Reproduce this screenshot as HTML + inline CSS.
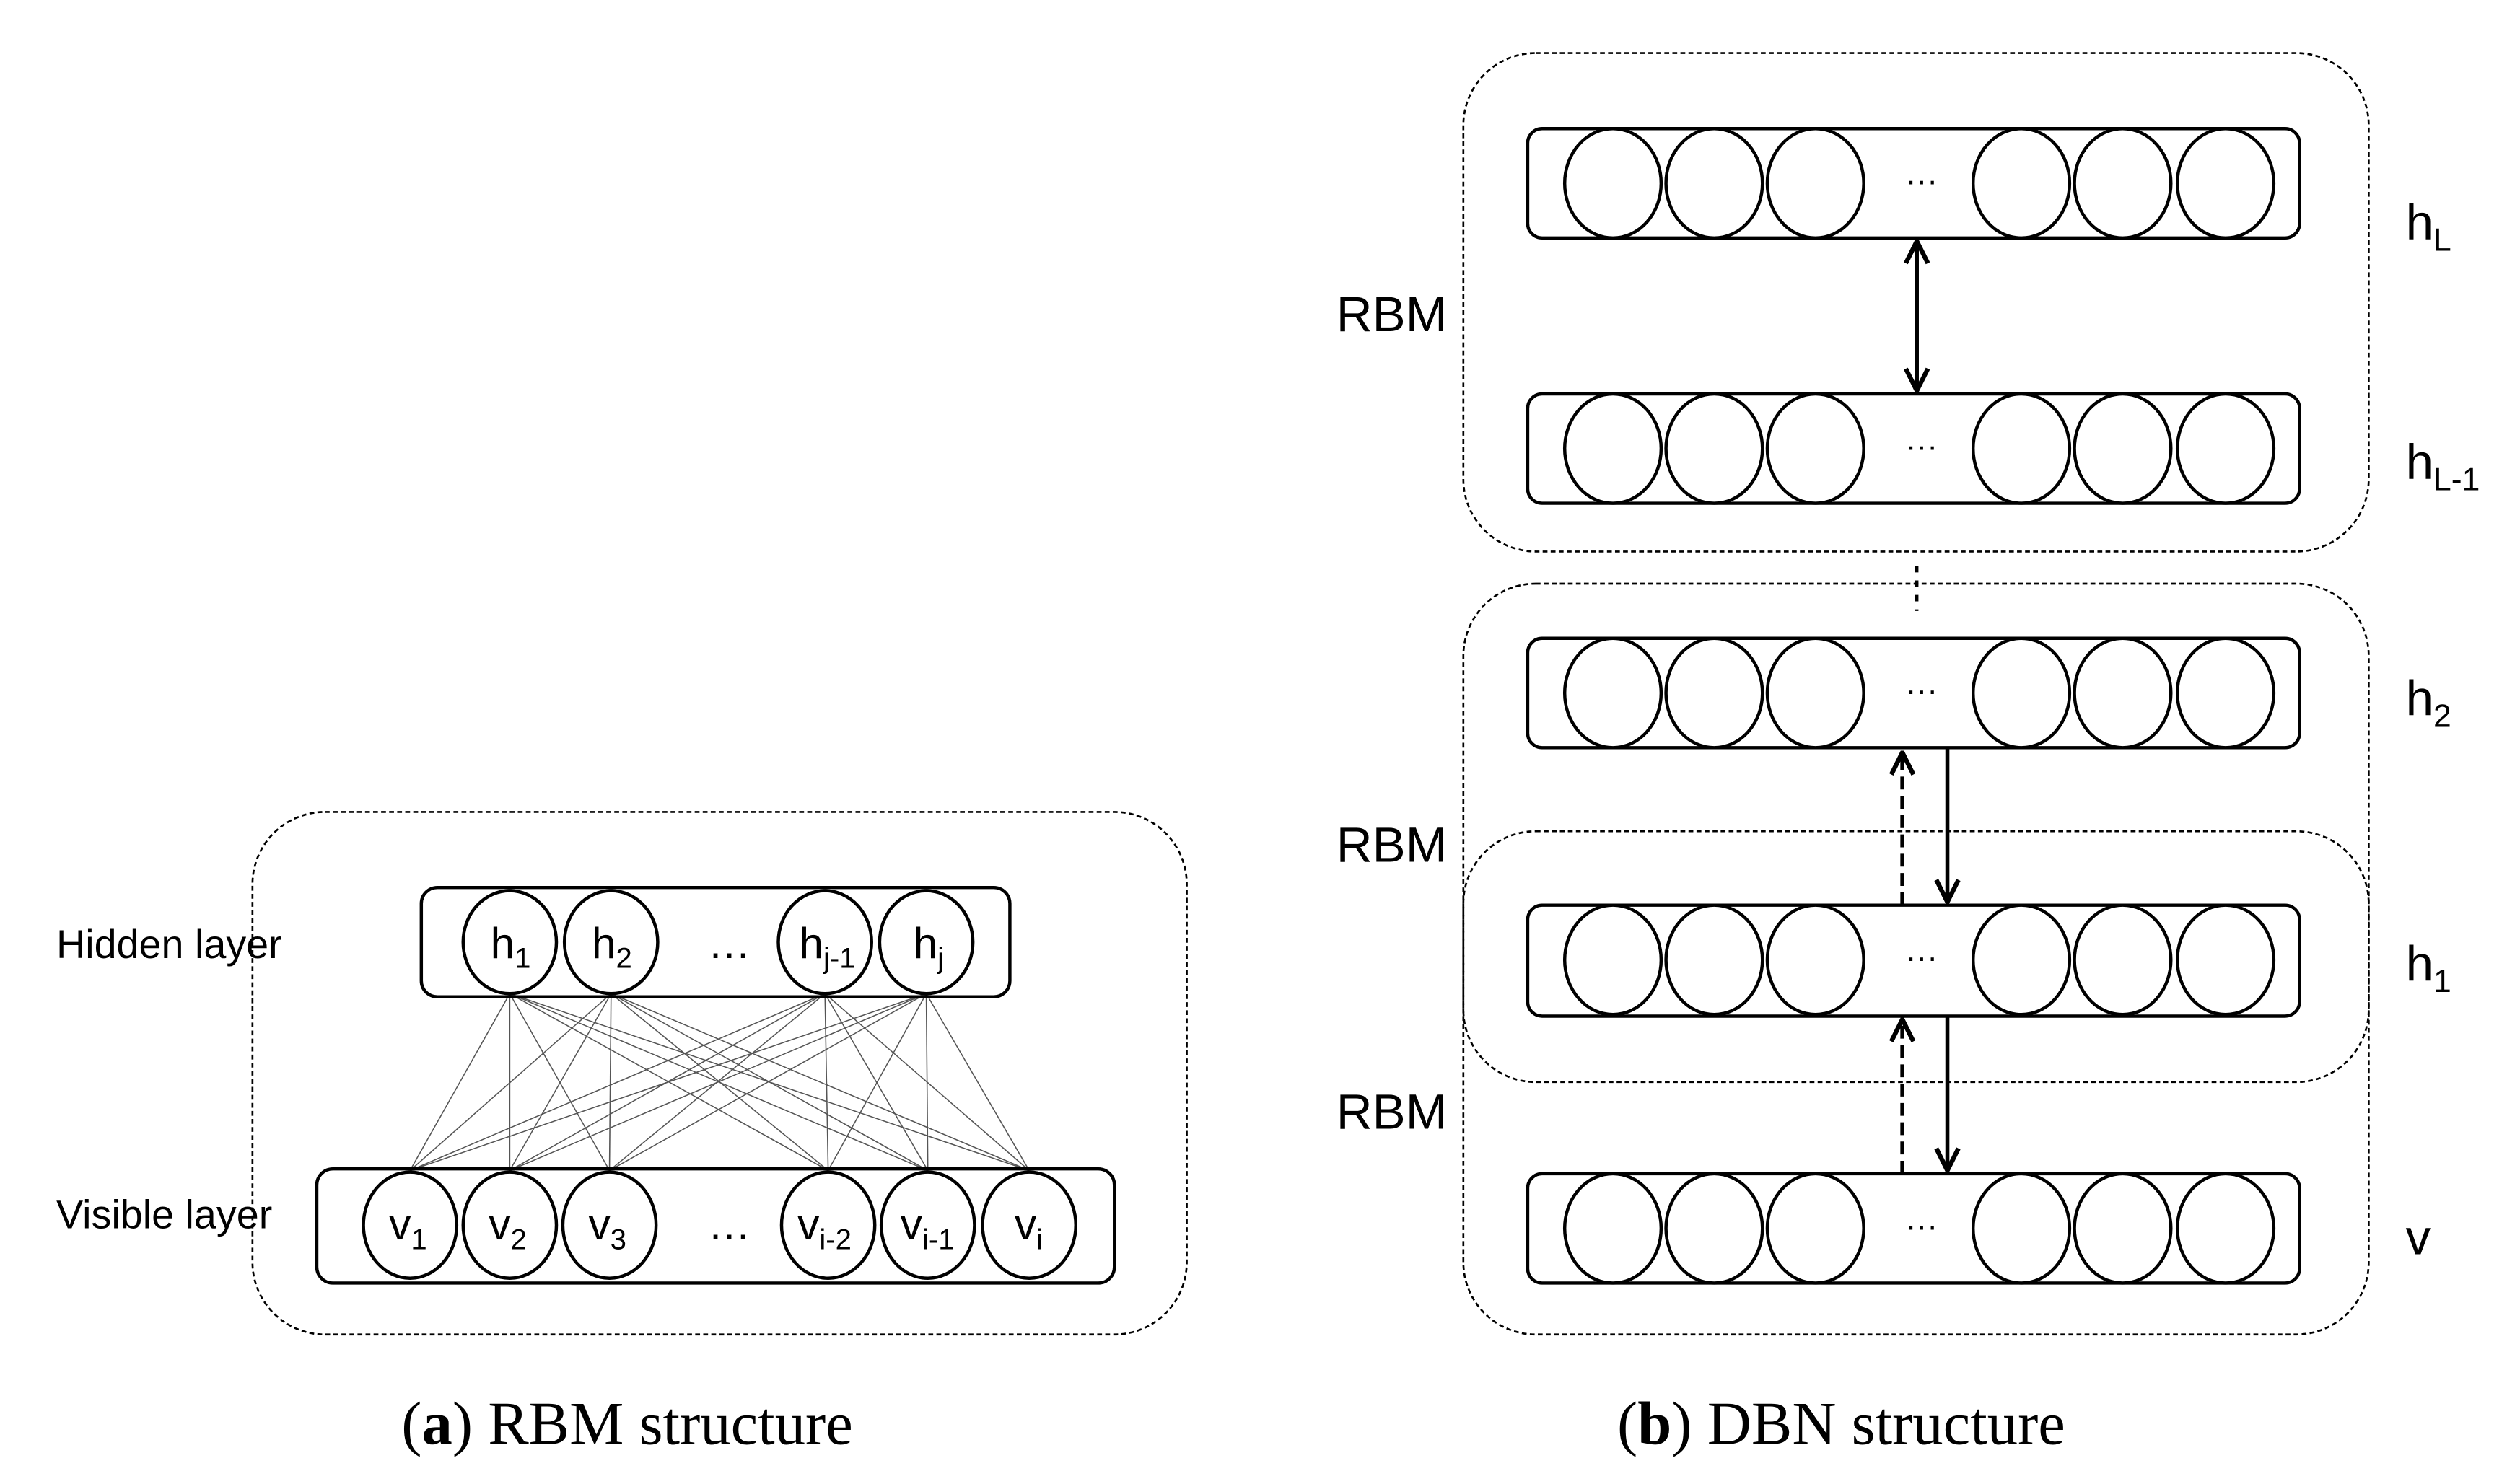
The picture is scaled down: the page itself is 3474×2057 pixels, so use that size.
<!DOCTYPE html>
<html><head><style>html,body{margin:0;padding:0;background:#fff}svg{display:block}</style></head>
<body>
<svg width="3474" height="2057" viewBox="0 0 1559 923" preserveAspectRatio="none" xmlns="http://www.w3.org/2000/svg">
<defs>
<marker id="ah2" viewBox="0 0 14 14" refX="13" refY="7" markerWidth="16" markerHeight="16" orient="auto-start-reverse" markerUnits="userSpaceOnUse"><path d="M1,1 L13,7 L1,13" fill="none" stroke="#000" stroke-width="2.5"/></marker>
</defs>
<g font-family="Liberation Sans, sans-serif" fill="none" stroke="#000">
<!-- Left panel -->
<rect x="157" y="505" width="581" height="325" rx="45" stroke-width="1.2" stroke-dasharray="3,2"/>
<g stroke="#555" stroke-width="0.7">
<line x1="317" y1="618" x2="255" y2="728"/><line x1="317" y1="618" x2="317" y2="728"/><line x1="317" y1="618" x2="379" y2="728"/><line x1="317" y1="618" x2="515" y2="728"/><line x1="317" y1="618" x2="577" y2="728"/><line x1="317" y1="618" x2="640" y2="728"/>
<line x1="380" y1="618" x2="255" y2="728"/><line x1="380" y1="618" x2="317" y2="728"/><line x1="380" y1="618" x2="379" y2="728"/><line x1="380" y1="618" x2="515" y2="728"/><line x1="380" y1="618" x2="577" y2="728"/><line x1="380" y1="618" x2="640" y2="728"/>
<line x1="513" y1="618" x2="255" y2="728"/><line x1="513" y1="618" x2="317" y2="728"/><line x1="513" y1="618" x2="379" y2="728"/><line x1="513" y1="618" x2="515" y2="728"/><line x1="513" y1="618" x2="577" y2="728"/><line x1="513" y1="618" x2="640" y2="728"/>
<line x1="576" y1="618" x2="255" y2="728"/><line x1="576" y1="618" x2="317" y2="728"/><line x1="576" y1="618" x2="379" y2="728"/><line x1="576" y1="618" x2="515" y2="728"/><line x1="576" y1="618" x2="577" y2="728"/><line x1="576" y1="618" x2="640" y2="728"/>
</g>
<rect x="262" y="552" width="366" height="68" rx="10" stroke-width="2" fill="none"/>
<rect x="197" y="727" width="496" height="71" rx="10" stroke-width="2" fill="none"/>
<g stroke-width="2" fill="#fff">
<ellipse cx="317" cy="586" rx="29" ry="32"/><ellipse cx="380" cy="586" rx="29" ry="32"/><ellipse cx="513" cy="586" rx="29" ry="32"/><ellipse cx="576" cy="586" rx="29" ry="32"/>
<ellipse cx="255" cy="762" rx="29" ry="33"/><ellipse cx="317" cy="762" rx="29" ry="33"/><ellipse cx="379" cy="762" rx="29" ry="33"/><ellipse cx="515" cy="762" rx="29" ry="33"/><ellipse cx="577" cy="762" rx="29" ry="33"/><ellipse cx="640" cy="762" rx="29" ry="33"/>
</g>
<g fill="#000" stroke="none" font-size="27">
<text x="305" y="596">h<tspan font-size="18" dy="6">1</tspan></text>
<text x="368" y="596">h<tspan font-size="18" dy="6">2</tspan></text>
<text x="497" y="596">h<tspan font-size="18" dy="6">j-1</tspan></text>
<text x="568" y="596">h<tspan font-size="18" dy="6">j</tspan></text>
<text x="242" y="771">v<tspan font-size="18" dy="6">1</tspan></text>
<text x="304" y="771">v<tspan font-size="18" dy="6">2</tspan></text>
<text x="366" y="771">v<tspan font-size="18" dy="6">3</tspan></text>
<text x="496" y="771">v<tspan font-size="18" dy="6">i-2</tspan></text>
<text x="560" y="771">v<tspan font-size="18" dy="6">i-1</tspan></text>
<text x="631" y="771">v<tspan font-size="18" dy="6">i</tspan></text>
<text x="440" y="596">…</text><text x="440" y="771">…</text>
<text x="35" y="596" font-size="25">Hidden layer</text>
<text x="35" y="764" font-size="25">Visible layer</text>
</g>
<!-- Right panel -->
<g stroke-width="1.2" stroke-dasharray="3,2">
<rect x="910" y="33" width="563" height="310" rx="45"/>
<rect x="910" y="363" width="563" height="467" rx="45"/>
<rect x="910" y="517" width="563" height="156" rx="45"/>
<line x1="1192" y1="352" x2="1192" y2="380" stroke-width="2" stroke-dasharray="4,5"/>
</g>
<g stroke-width="2">
<rect x="950" y="80" width="480" height="68" rx="9"/>
<rect x="950" y="245" width="480" height="68" rx="9"/>
<rect x="950" y="397" width="480" height="68" rx="9"/>
<rect x="950" y="563" width="480" height="69" rx="9"/>
<rect x="950" y="730" width="480" height="68" rx="9"/>
</g>
<g stroke-width="2" fill="#fff">
<g id="row"><ellipse cx="1003" cy="114" rx="30" ry="34"/><ellipse cx="1066" cy="114" rx="30" ry="34"/><ellipse cx="1129" cy="114" rx="30" ry="34"/><ellipse cx="1257" cy="114" rx="30" ry="34"/><ellipse cx="1320" cy="114" rx="30" ry="34"/><ellipse cx="1384" cy="114" rx="30" ry="34"/></g>
<use href="#row" y="165"/><use href="#row" y="317"/><use href="#row" y="483"/><use href="#row" y="650"/>
</g>
<g stroke-width="2.5">
<line x1="1192" y1="150" x2="1192" y2="243" marker-start="url(#ah2)" marker-end="url(#ah2)"/>
<line x1="1183" y1="563" x2="1183" y2="468" stroke-dasharray="8,4" marker-end="url(#ah2)"/>
<line x1="1211" y1="465" x2="1211" y2="561" marker-end="url(#ah2)"/>
<line x1="1183" y1="730" x2="1183" y2="634" stroke-dasharray="8,4" marker-end="url(#ah2)"/>
<line x1="1211" y1="632" x2="1211" y2="728" marker-end="url(#ah2)"/>
</g>
<g fill="#000" stroke="none" font-size="31">
<text x="1185" y="119" font-size="20">···</text>
<text x="1185" y="284" font-size="20">···</text>
<text x="1185" y="436" font-size="20">···</text>
<text x="1185" y="602" font-size="20">···</text>
<text x="1185" y="769" font-size="20">···</text>
<text x="831" y="206">RBM</text>
<text x="831" y="536">RBM</text>
<text x="831" y="702">RBM</text>
<text x="1496" y="149">h<tspan font-size="20" dy="7">L</tspan></text>
<text x="1496" y="298">h<tspan font-size="20" dy="7">L-1</tspan></text>
<text x="1496" y="445">h<tspan font-size="20" dy="7">2</tspan></text>
<text x="1496" y="610">h<tspan font-size="20" dy="7">1</tspan></text>
<text x="1496" y="780">v</text>
</g>
<g fill="#000" stroke="none" font-family="Liberation Serif, serif" font-size="38" text-anchor="middle">
<text x="390" y="898">(<tspan font-weight="bold">a</tspan>) RBM structure</text>
<text x="1145" y="898">(<tspan font-weight="bold">b</tspan>) DBN structure</text>
</g>
</g>
</svg>
</body></html>
